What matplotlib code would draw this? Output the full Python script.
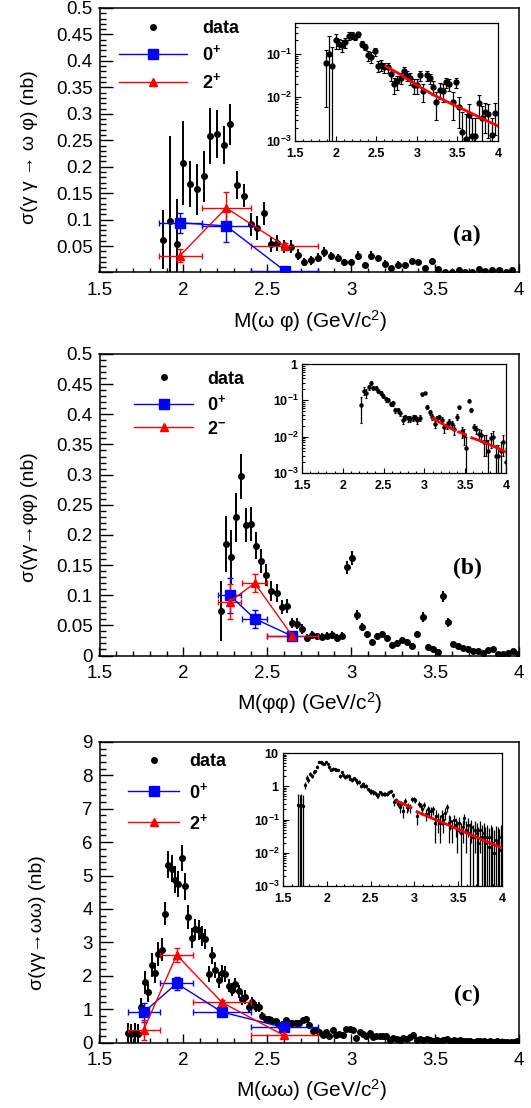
import numpy as np
import matplotlib
matplotlib.use("Agg")
import matplotlib.pyplot as plt
from matplotlib.lines import Line2D
from matplotlib.ticker import MultipleLocator, FuncFormatter, LogLocator, NullFormatter

plt.rcParams["font.family"] = ["Liberation Sans", "DejaVu Sans"]
plt.rcParams["mathtext.fontset"] = "custom"
plt.rcParams["mathtext.rm"] = "Liberation Sans"
plt.rcParams["mathtext.bf"] = "Liberation Sans:bold"
plt.rcParams["mathtext.it"] = "Liberation Sans:italic"

# ---------------- panel (a): gamma gamma -> omega phi, 0.04 GeV bins from 1.88
mass_a = np.round(np.arange(1.88, 3.97, 0.04), 2)
xs_a = [0.062, 0.098, 0.053, 0.207, 0.167, 0.157, 0.182, 0.258, 0.262, 0.241,
        0.280, 0.165, 0.145, 0.091, 0.084, 0.112, 0.053, 0.055, 0.049, 0.049,
        0.034, 0.020, 0.023, 0.028, 0.039, 0.031, 0.027, 0.019, 0.019, 0.032,
        0.014, 0.032, 0.027, 0.017, 0.008, 0.015, 0.014, 0.022, 0.020, 0.008,
        0.022, 0.006, 0.0016, 0.0011, 0.0039, 0.0013, 0.0013, 0.0073, 0.0033, 0.0045,
        0.0042, 0.0014, 0.0044]
err_a = [0.056, 0.160, 0.085, 0.080, 0.043, 0.048, 0.048, 0.053, 0.046, 0.036,
         0.039, 0.027, 0.022, 0.022, 0.022, 0.022, 0.015, 0.015, 0.013, 0.013,
         0.010, 0.008, 0.008, 0.008, 0.009, 0.008, 0.008, 0.007, 0.007, 0.008,
         0.006, 0.008, 0.007, 0.006, 0.005, 0.006, 0.006, 0.006, 0.006, 0.005,
         0.006, 0.004, 0.003, 0.003, 0.003, 0.002, 0.002, 0.004, 0.003, 0.003,
         0.003, 0.002, 0.003]
fit_a_x = [2.62, 2.8, 3.0, 3.2, 3.4, 3.6, 3.8, 4.0]
fit_a_y = [0.051, 0.033, 0.019, 0.0115, 0.0075, 0.005, 0.0033, 0.0022]
model_a_x = [1.98, 2.255, 2.605]
model_a_lo = [1.855, 2.11, 2.40]
model_a_hi = [2.11, 2.40, 2.80]
blue_a = [0.094, 0.088, 0.003]
blue_a_err = [0.019, 0.030, 0.002]
red_a = [0.032, 0.122, 0.050]
red_a_err = [0.013, 0.030, 0.006]

# ---------------- panel (b): gamma gamma -> phi phi, 0.03 GeV bins from 2.225
mass_b = np.round(np.arange(2.225, 4.0, 0.03), 3)
xs_b = [0.074, 0.185, 0.163, 0.229, 0.297, 0.216, 0.218, 0.182, 0.156, 0.133,
        0.107, 0.104, 0.080, 0.082, 0.054, 0.053, 0.044, 0.029, 0.034, 0.032,
        0.031, 0.033, 0.034, 0.029, 0.033, 0.146, 0.162, 0.067, 0.047, 0.035,
        0.022, 0.033, 0.035, 0.029, 0.018, 0.021, 0.025, 0.022, 0.016, 0.035,
        0.064, 0.014, 0.011, 0.005, 0.098, 0.055, 0.019, 0.016, 0.012, 0.011,
        0.007, 0.007, 0.004, 0.009, 0.010, 0.003, 0.003, 0.004, 0.007, 0.002]
err_b = [0.050, 0.047, 0.045, 0.040, 0.037, 0.028, 0.028, 0.022, 0.020, 0.018,
         0.016, 0.015, 0.012, 0.012, 0.009, 0.009, 0.008, 0.007, 0.006, 0.006,
         0.006, 0.006, 0.006, 0.006, 0.006, 0.011, 0.012, 0.008, 0.007, 0.006,
         0.005, 0.005, 0.005, 0.005, 0.005, 0.005, 0.005, 0.005, 0.005, 0.006,
         0.008, 0.005, 0.005, 0.005, 0.009, 0.007, 0.004, 0.004, 0.004, 0.004,
         0.004, 0.004, 0.004, 0.004, 0.004, 0.003, 0.003, 0.003, 0.004, 0.003]
fit_b_x = [3.1, 3.2, 3.3, 3.37, np.nan, 3.42, 3.5, np.nan, 3.58, 3.7, 3.8, 3.9, 4.0]
fit_b_y = [0.032, 0.024, 0.018, 0.015, np.nan, 0.0135, 0.0115, np.nan, 0.0093, 0.0075, 0.006, 0.0048, 0.0038]
model_b_x = [2.275, 2.425, 2.65]
model_b_lo = [2.205, 2.35, 2.50]
model_b_hi = [2.345, 2.50, 2.80]
blue_b = [0.100, 0.061, 0.032]
blue_b_err = [0.029, 0.015, 0.003]
red_b = [0.089, 0.120, 0.032]
red_b_err = [0.029, 0.015, 0.003]

# ---------------- panel (c): gamma gamma -> omega omega, 0.02 GeV bins from 1.67
mass_c = np.round(np.arange(1.67, 4.0, 0.02), 2)
xs_c = [0.27, 0.25, 0.28, 0.25, 1.07, 1.80, 1.52, 2.32, 2.09, 2.65,
        2.78, 3.86, 5.33, 5.21, 4.88, 4.75, 5.53, 4.68, 3.76, 3.13,
        3.40, 3.36, 3.18, 3.10, 2.05, 2.61, 2.17, 1.87, 2.07, 2.05,
        1.70, 1.58, 1.74, 1.53, 1.31, 1.36, 1.05, 1.20, 1.05, 1.05,
        0.80, 0.70, 0.70, 0.65, 0.63, 0.53, 0.53, 0.66, 0.58, 0.58,
        0.58, 0.58, 0.66, 0.70, 0.53, 0.33, 0.38, 0.30, 0.23, 0.30,
        0.18, 0.36, 0.23, 0.25, 0.23, 0.40, 0.40, 0.38, 0.13, 0.30,
        0.26, 0.20, 0.28, 0.15, 0.20, 0.18, 0.18, 0.20, 0.08, 0.13,
        0.10, 0.08, 0.13, 0.10, 0.16, 0.23, 0.08,
        0.09, 0.06, 0.10, 0.07, 0.05, 0.08, 0.04, 0.06, 0.11, 0.05,
        0.07, 0.04, 0.06, 0.03, 0.05, 0.04, 0.02, 0.05, 0.03, 0.04,
        0.02, 0.03, 0.015, 0.03, 0.02, 0.01, 0.025, 0.02, 0.012, 0.03]
err_c = [0.30, 0.30, 0.30, 0.30, 0.25, 0.35, 0.30, 0.35, 0.30, 0.35,
         0.35, 0.35, 0.40, 0.40, 0.40, 0.40, 0.40, 0.40, 0.35, 0.30,
         0.30, 0.30, 0.30, 0.30, 0.25, 0.25, 0.25, 0.25, 0.25, 0.25,
         0.20, 0.20, 0.20, 0.20, 0.20, 0.20, 0.15, 0.15, 0.15, 0.15,
         0.10, 0.10, 0.10, 0.10, 0.10, 0.10, 0.10, 0.08, 0.08, 0.08,
         0.08, 0.08, 0.08, 0.08, 0.08, 0.07, 0.07, 0.07, 0.07, 0.07,
         0.07, 0.07, 0.07, 0.07, 0.07, 0.07, 0.07, 0.07, 0.06, 0.06,
         0.06, 0.06, 0.06, 0.06, 0.06, 0.06, 0.06, 0.06, 0.06, 0.06,
         0.06, 0.06, 0.06, 0.06, 0.06, 0.06, 0.06,
         0.04, 0.04, 0.04, 0.04, 0.04, 0.04, 0.04, 0.04, 0.04, 0.04,
         0.04, 0.04, 0.04, 0.04, 0.04, 0.04, 0.04, 0.04, 0.04, 0.04,
         0.04, 0.04, 0.04, 0.04, 0.04, 0.04, 0.04, 0.04, 0.04, 0.04]
fit_c_x = [2.80, 2.88, 2.96, np.nan, 3.03, 3.2, 3.4, 3.6, 3.8, 4.0]
fit_c_y = [0.36, 0.29, 0.23, np.nan, 0.17, 0.109, 0.066, 0.039, 0.023, 0.014]
model_c_x = [1.763, 1.96, 2.23, 2.60]
model_c_lo = [1.67, 1.86, 2.06, 2.40]
model_c_hi = [1.86, 2.06, 2.40, 2.80]
blue_c = [0.90, 1.77, 0.91, 0.45]
blue_c_err = [0.28, 0.20, 0.06, 0.05]
red_c = [0.38, 2.62, 1.20, 0.21]
red_c_err = [0.30, 0.21, 0.06, 0.04]

W, H = 531, 1108
fig = plt.figure(figsize=(W / 100, H / 100), dpi=100)


def box(l, t, r, b):
    return fig.add_axes([l / W, 1 - b / H, (r - l) / W, (b - t) / H])


def num(v, pos):
    return f"{v:g}"


def main_panel(ax, x, y, ey, ymax, ymaj, ymin, hide_zero, xlen, ylen):
    ax.errorbar(x, y, yerr=ey, fmt="o", color="k", ms=4, elinewidth=1.4,
                capsize=0, zorder=3)
    ax.set_xlim(1.5, 4)
    ax.set_ylim(0, ymax)
    ax.xaxis.set_major_locator(MultipleLocator(0.5))
    ax.xaxis.set_minor_locator(MultipleLocator(0.1))
    ax.yaxis.set_major_locator(MultipleLocator(ymaj))
    ax.yaxis.set_minor_locator(MultipleLocator(ymin))
    ax.xaxis.set_major_formatter(FuncFormatter(num))
    if hide_zero:
        ax.yaxis.set_major_formatter(FuncFormatter(lambda v, p: "" if abs(v) < 1e-9 else f"{round(v, 3):g}"))
    else:
        ax.yaxis.set_major_formatter(FuncFormatter(lambda v, p: f"{round(v, 3):g}"))
    ax.tick_params(which="both", direction="in", top=False, right=False,
                   labelsize=13.5, width=1)
    ax.tick_params(axis="x", which="major", length=xlen, pad=7)
    ax.tick_params(axis="x", which="minor", length=xlen / 2)
    ax.tick_params(axis="y", which="major", length=ylen, pad=5)
    ax.tick_params(axis="y", which="minor", length=ylen / 2)
    for s in ax.spines.values():
        s.set_linewidth(1.1)


def model(ax, x, lo, hi, y, ey, color, marker, ms):
    x = np.asarray(x)
    xerr = [x - np.asarray(lo), np.asarray(hi) - x]
    ax.errorbar(x, y, xerr=xerr, yerr=ey, color=color, marker=marker, ms=ms,
                lw=1, elinewidth=1, capsize=2, capthick=1, zorder=4)


def legend(ax, second, anchor, spacing, hlen, tpad):
    handles = [Line2D([], [], ls="none", marker="o", color="k", ms=4),
               Line2D([], [], color="blue", lw=1, marker="s", ms=7),
               Line2D([], [], color="red", lw=1, marker="^", ms=6)]
    labels = ["data", r"$\mathbf{0^{+}}$", second]
    ax.legend(handles, labels, loc="upper left", bbox_to_anchor=anchor,
              frameon=False, prop=dict(weight="bold", size=13),
              handlelength=hlen, handletextpad=tpad, labelspacing=spacing,
              borderpad=0, borderaxespad=0)


def logfmt(v, pos):
    e = int(round(np.log10(v)))
    if e == 0:
        return r"$\mathbf{1}$"
    if e == 1:
        return r"$\mathbf{10}$"
    return r"$\mathbf{10^{%d}}$" % e


def inset(ax, x, y, ey, ymax, ms, cap, fx, fy):
    ax.errorbar(x, y, yerr=ey, fmt="o", color="k", ms=ms, elinewidth=0.9,
                capsize=cap, capthick=0.8, zorder=3)
    ax.plot(fx, fy, color="red", lw=2, zorder=4)
    ax.set_yscale("log")
    ax.set_xlim(1.5, 4)
    ax.set_ylim(1e-3, ymax)
    ax.xaxis.set_major_locator(MultipleLocator(0.5))
    ax.xaxis.set_minor_locator(MultipleLocator(0.1))
    ax.xaxis.set_major_formatter(FuncFormatter(num))
    ax.yaxis.set_major_locator(LogLocator(base=10, numticks=10))
    ax.yaxis.set_minor_locator(LogLocator(base=10, subs=np.arange(2, 10), numticks=10))
    ax.yaxis.set_major_formatter(FuncFormatter(logfmt))
    ax.yaxis.set_minor_formatter(NullFormatter())
    ax.tick_params(which="both", direction="in", top=False, right=False,
                   labelsize=9, width=0.8)
    ax.tick_params(axis="x", which="major", length=3.5, pad=5)
    ax.tick_params(axis="x", which="minor", length=1.8)
    ax.tick_params(axis="y", which="major", length=4.5, pad=2.5)
    ax.tick_params(axis="y", which="minor", length=2.2)
    for lab in ax.get_xticklabels():
        lab.set_fontweight("bold")
    for s in ax.spines.values():
        s.set_linewidth(0.9)


# ---------------- (a)
ax_a = box(99.5, 8, 519, 272.5)
main_panel(ax_a, mass_a, xs_a, err_a, 0.5, 0.05, 0.01, True, 5.8, 9)
model(ax_a, model_a_x, model_a_lo, model_a_hi, blue_a, blue_a_err, "blue", "s", 7)
model(ax_a, model_a_x, model_a_lo, model_a_hi, red_a, red_a_err, "red", "^", 6)
legend(ax_a, r"$\mathbf{2^{+}}$", (0.046, 0.955), 0.42, 3.8, 0.8)
ax_a.text(0.876, 0.14, "(a)", transform=ax_a.transAxes, ha="center", va="center",
          family="Liberation Serif", weight="bold", size=17)
ins_a = box(295, 23, 498, 141)
inset(ins_a, mass_a, xs_a, err_a, 0.5, 3.5, 1.5, fit_a_x, fit_a_y)

# ---------------- (b)
ax_b = box(99.5, 354, 519, 655.5)
main_panel(ax_b, mass_b, xs_b, err_b, 0.5, 0.05, 0.01, False, 6.5, 9)
model(ax_b, model_b_x, model_b_lo, model_b_hi, blue_b, blue_b_err, "blue", "s", 7)
model(ax_b, model_b_x, model_b_lo, model_b_hi, red_b, red_b_err, "red", "^", 6)
legend(ax_b, r"$\mathbf{2^{-}}$", (0.082, 0.945), 0.36, 3.3, 0.75)
ax_b.text(0.876, 0.29, "(b)", transform=ax_b.transAxes, ha="center", va="center",
          family="Liberation Serif", weight="bold", size=17)
ins_b = box(302, 364, 506, 473)
inset(ins_b, mass_b, xs_b, err_b, 1.0, 2.2, 1.0, fit_b_x, fit_b_y)

# ---------------- (c)
ax_c = box(99.5, 742, 519, 1042.5)
main_panel(ax_c, mass_c, xs_c, err_c, 9, 1, 0.2, False, 6.5, 9)
model(ax_c, model_c_x, model_c_lo, model_c_hi, blue_c, blue_c_err, "blue", "s", 7)
model(ax_c, model_c_x, model_c_lo, model_c_hi, red_c, red_c_err, "red", "^", 6)
legend(ax_c, r"$\mathbf{2^{+}}$", (0.068, 0.962), 0.62, 2.85, 0.55)
ax_c.text(0.876, 0.155, "(c)", transform=ax_c.transAxes, ha="center", va="center",
          family="Liberation Serif", weight="bold", size=17)
ins_c = box(283, 753, 502, 886)
inset(ins_c, mass_c, xs_c, err_c, 10, 1.4, 0, fit_c_x, fit_c_y)

# ---------------- axis titles
fig.text(310 / W, 1 - 321 / H, "M(ω φ) (GeV/c$^2$)", ha="center", va="center", size=15)
fig.text(310 / W, 1 - 703 / H, "M(φφ) (GeV/c$^2$)", ha="center", va="center", size=15)
fig.text(312 / W, 1 - 1090 / H, "M(ωω) (GeV/c$^2$)", ha="center", va="center", size=15)
fig.text(30 / W, 1 - 147 / H, "σ(γ γ → ω φ) (nb)", ha="center", va="center", rotation=90, size=14)
fig.text(29 / W, 1 - 517 / H, "σ(γγ→φφ) (nb)", ha="center", va="center", rotation=90, size=14)
fig.text(38 / W, 1 - 923 / H, "σ(γγ→ωω) (nb)", ha="center", va="center", rotation=90, size=14)

fig.savefig("out.png", dpi=100)
